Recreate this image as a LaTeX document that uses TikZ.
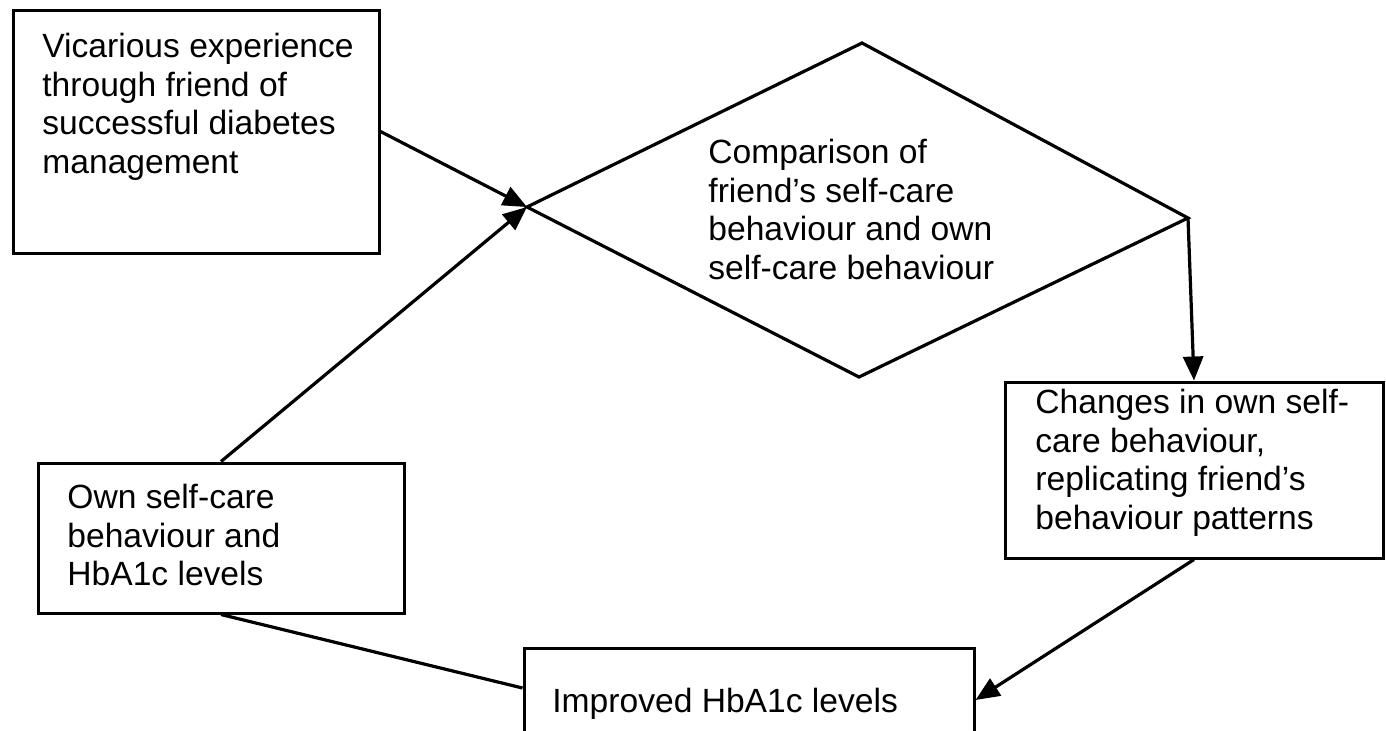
\documentclass[tikz,border=0pt]{standalone}
\usepackage{fontspec}
\setmainfont{Liberation Sans}
\usetikzlibrary{arrows.meta}
\begin{document}
\begin{tikzpicture}[x=0.5pt, y=-0.5pt,
  box/.style={draw, line width=1.5pt, rectangle, inner sep=0pt},
  label/.style={anchor=north west, inner sep=0pt, align=left,
    font={\fontsize{16.8}{19.25}\selectfont}},
  link/.style={line width=1.6pt},
  arr/.style={link, -{Triangle[length=12pt, width=10pt]}}]
  \clip (0,0) rectangle (1386,730);
  \fill[white] (0,0) rectangle (1386,730);

  % boxes
  \node[box, minimum width=183pt, minimum height=121.5pt] (vic) at (196,131.5) {};
  \node[box, minimum width=183pt, minimum height=75pt] (own) at (221,538) {};
  \node[box, minimum width=189pt, minimum height=88pt] (chg) at (1194,470) {};
  \node[box, minimum width=225pt, minimum height=42pt] (imp) at (749,690) {};

  % decision diamond
  \coordinate (dl) at (527,207);
  \coordinate (dt) at (862,43);
  \coordinate (dr) at (1188,218);
  \coordinate (db) at (859,377);
  \draw[link, line join=miter] (dl) -- (dt) -- (dr) -- (db) -- cycle;

  % texts
  \node[label] (tvic) at (42,33) {Vicarious experience\\through friend of\\successful diabetes\\management};
  \node[label] (tcmp) at (708,139) {Comparison of\\friend’s self-care\\behaviour and own\\self-care behaviour};
  \node[label] (town) at (67,484) {Own self-care\\behaviour and\\HbA1c levels};
  \node[label] (tchg) at (1035,389) {Changes in own self-\\care behaviour,\\replicating friend’s\\behaviour patterns};
  \node[label] (timp) at (552,688) {Improved HbA1c levels};

  % connectors
  \draw[arr] (vic.east) -- (dl);
  \draw[arr] (own.north) -- (dl);
  \draw[arr] (dr) -- (chg.north);
  \draw[arr] (chg.south) -- ([yshift=-5pt]imp.east);
  \draw[link] (own.south) -- ([yshift=1pt]imp.west);
\end{tikzpicture}
\end{document}
